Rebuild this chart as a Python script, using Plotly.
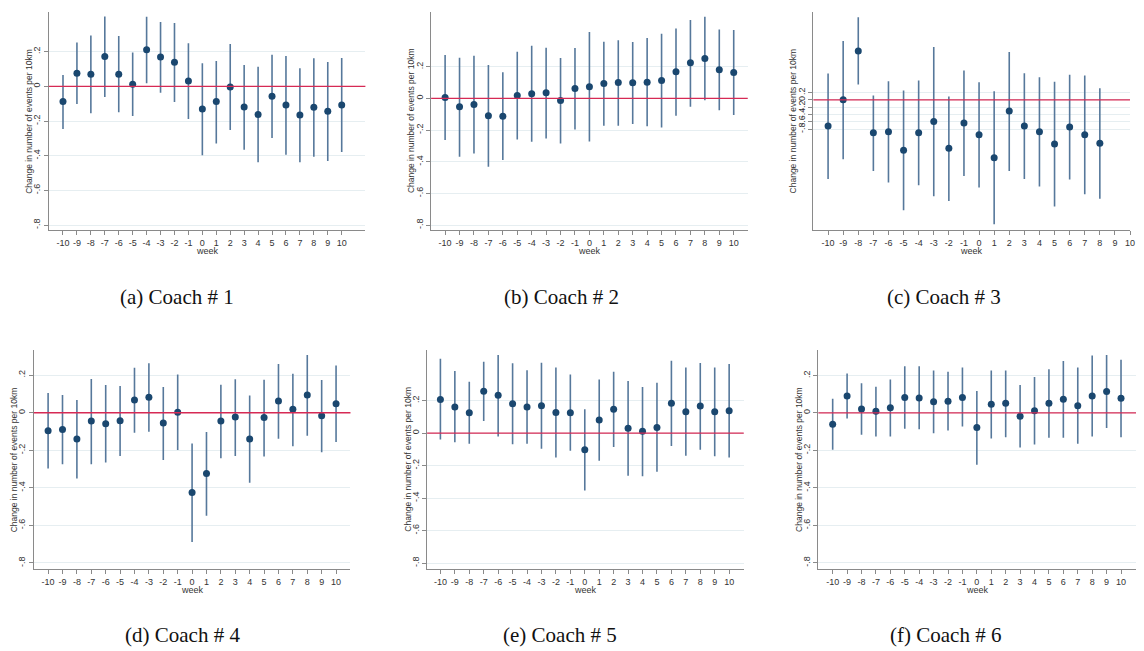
import plotly.graph_objects as go

# Event-study estimates: weekly change in events per 10km, one panel per coach
weeks = list(range(-10, 11))

coach1_est = [-0.088, 0.075, 0.069, 0.171, 0.069, 0.012, 0.210, 0.169, 0.138, 0.031, -0.131,
              -0.088, -0.004, -0.119, -0.162, -0.058, -0.108, -0.165, -0.121, -0.144, -0.108]
coach1_hi = [0.065, 0.252, 0.292, 0.402, 0.290, 0.194, 0.400, 0.371, 0.365, 0.248, 0.133,
             0.146, 0.244, 0.123, 0.112, 0.181, 0.175, 0.104, 0.162, 0.140, 0.163]
coach1_lo = [-0.246, -0.102, -0.156, -0.062, -0.150, -0.171, 0.017, -0.037, -0.090, -0.188, -0.398,
             -0.329, -0.252, -0.365, -0.437, -0.298, -0.394, -0.437, -0.406, -0.431, -0.379]

coach2_est = [0.006, -0.053, -0.038, -0.109, -0.112, 0.019, 0.029, 0.036, -0.013, 0.063, 0.074,
              0.095, 0.101, 0.099, 0.103, 0.114, 0.168, 0.225, 0.253, 0.181, 0.164]
coach2_hi = [0.274, 0.257, 0.269, 0.211, 0.166, 0.295, 0.333, 0.320, 0.255, 0.318, 0.419,
             0.358, 0.368, 0.356, 0.381, 0.408, 0.442, 0.495, 0.516, 0.436, 0.432]
coach2_lo = [-0.263, -0.368, -0.347, -0.432, -0.389, -0.259, -0.274, -0.253, -0.284, -0.196, -0.272,
             -0.173, -0.173, -0.162, -0.175, -0.183, -0.109, -0.053, -0.011, -0.074, -0.105]

# Coach 3 has no estimates for weeks 9 and 10
coach3_est = [-0.718, 0.000, 1.336, -0.900, -0.873, -1.382, -0.900, -0.591, -1.327, -0.636, -0.955,
              -1.582, -0.309, -0.718, -0.873, -1.209, -0.745, -0.955, -1.191, None, None]
coach3_hi = [0.718, 1.609, 2.255, 0.118, 0.509, 0.255, 0.527, 1.445, 0.091, 0.800, 0.482,
             0.236, 1.309, 0.727, 0.618, 0.491, 0.682, 0.664, 0.318, None, None]
coach3_lo = [-2.164, -1.627, 0.418, -1.945, -2.264, -3.018, -2.336, -2.636, -2.764, -2.082, -2.400,
             -3.400, -1.945, -2.164, -2.373, -2.918, -2.182, -2.582, -2.709, None, None]

coach4_est = [-0.096, -0.089, -0.140, -0.044, -0.059, -0.043, 0.068, 0.082, -0.055, 0.002, -0.425,
              -0.324, -0.044, -0.023, -0.140, -0.025, 0.062, 0.018, 0.094, -0.016, 0.048]
coach4_hi = [0.105, 0.094, 0.068, 0.180, 0.148, 0.142, 0.240, 0.263, 0.137, 0.204, -0.164,
             -0.103, 0.149, 0.178, 0.092, 0.176, 0.260, 0.208, 0.308, 0.174, 0.251]
coach4_lo = [-0.297, -0.274, -0.350, -0.274, -0.265, -0.231, -0.107, -0.101, -0.252, -0.199, -0.688,
             -0.549, -0.242, -0.231, -0.373, -0.233, -0.139, -0.178, -0.123, -0.210, -0.156]

coach5_est = [0.207, 0.160, 0.125, 0.258, 0.232, 0.181, 0.160, 0.168, 0.127, 0.125, -0.103,
              0.080, 0.146, 0.029, 0.012, 0.035, 0.183, 0.131, 0.166, 0.131, 0.137]
coach5_hi = [0.457, 0.382, 0.316, 0.439, 0.480, 0.429, 0.386, 0.433, 0.404, 0.361, 0.146,
             0.330, 0.377, 0.320, 0.283, 0.310, 0.445, 0.404, 0.431, 0.404, 0.425]
coach5_lo = [-0.039, -0.057, -0.066, 0.074, -0.021, -0.068, -0.066, -0.096, -0.150, -0.109, -0.353,
             -0.170, -0.086, -0.263, -0.265, -0.238, -0.080, -0.139, -0.103, -0.142, -0.150]

coach6_est = [-0.060, 0.091, 0.021, 0.009, 0.028, 0.082, 0.080, 0.060, 0.062, 0.083, -0.078,
              0.046, 0.052, -0.018, 0.012, 0.052, 0.073, 0.039, 0.091, 0.114, 0.078]
coach6_hi = [0.076, 0.211, 0.158, 0.140, 0.179, 0.249, 0.249, 0.227, 0.220, 0.242, 0.117,
             0.227, 0.226, 0.149, 0.192, 0.233, 0.277, 0.242, 0.306, 0.309, 0.284]
coach6_lo = [-0.197, -0.030, -0.117, -0.126, -0.126, -0.085, -0.087, -0.108, -0.094, -0.073, -0.277,
             -0.137, -0.130, -0.185, -0.169, -0.133, -0.133, -0.165, -0.126, -0.080, -0.130]

captions = ["(a) Coach # 1", "(b) Coach # 2", "(c) Coach # 3",
            "(d) Coach # 4", "(e) Coach # 5", "(f) Coach # 6"]

ytick_vals = [-0.8, -0.6, -0.4, -0.2, 0, 0.2]
ytick_text = ["-.8", "-.6", "-.4", "-.2", "0", ".2"]
xtick_vals = weeks
xtick_text = [str(w) for w in weeks]

series = [
    (coach1_est, coach1_lo, coach1_hi),
    (coach2_est, coach2_lo, coach2_hi),
    (coach3_est, coach3_lo, coach3_hi),
    (coach4_est, coach4_lo, coach4_hi),
    (coach5_est, coach5_lo, coach5_hi),
    (coach6_est, coach6_lo, coach6_hi),
]

# Panel frames in pixels: (left, right, top, bottom) and axis ranges
W, H = 1144, 651
frames = [
    dict(px=(49, 367, 12, 230), xr=(-11.02, 11.7), yr=(-0.828, 0.428), cap=(178, 297)),
    dict(px=(433, 751, 12, 230), xr=(-10.97, 10.97), yr=(-0.831, 0.546), cap=(564, 297)),
    dict(px=(817, 1135, 12, 230), xr=(-10.97, 10.0), yr=(-3.56, 2.40), cap=(948, 297)),
    dict(px=(34, 352, 350, 569), xr=(-10.99, 11.0), yr=(-0.832, 0.334), cap=(183, 635)),
    dict(px=(429, 747, 350, 569), xr=(-10.92, 11.01), yr=(-0.836, 0.511), cap=(562, 635)),
    dict(px=(822, 1141, 350, 569), xr=(-10.99, 11.04), yr=(-0.833, 0.336), cap=(950, 635)),
]

NAVY = "#1a476f"
WHISKER = "#56789b"
ZERO = "#d62a55"
GRID = "#e6eef1"
AXIS = "#8a8a8a"
TXT = "#333333"
SANS = "Liberation Sans, Arial, sans-serif"
SERIF = "Liberation Serif, Times New Roman, serif"

fig = go.Figure()
layout = dict(
    width=W, height=H,
    margin=dict(l=0, r=0, t=0, b=0),
    paper_bgcolor="white", plot_bgcolor="white",
    showlegend=False,
)
annotations = []
shapes = []

for i, ((est, lo, hi), fr) in enumerate(zip(series, frames), start=1):
    xs = "" if i == 1 else str(i)
    l, r, t, b = fr["px"]
    plus = [None if (h is None or e is None) else h - e for h, e in zip(hi, est)]
    minus = [None if (q is None or e is None) else e - q for q, e in zip(lo, est)]

    fig.add_trace(go.Scatter(
        x=weeks, y=est, mode="markers",
        marker=dict(color=NAVY, size=7),
        error_y=dict(type="data", symmetric=False, array=plus, arrayminus=minus,
                     color=WHISKER, thickness=1.6, width=0),
        xaxis="x" + xs, yaxis="y" + xs,
    ))

    layout["xaxis" + xs] = dict(
        domain=[l / W, r / W], range=list(fr["xr"]), anchor="y" + xs,
        tickmode="array", tickvals=xtick_vals, ticktext=xtick_text, tickangle=0,
        ticks="outside", ticklen=4, tickcolor=AXIS, tickwidth=1,
        showline=True, linecolor=AXIS, linewidth=1,
        showgrid=False, zeroline=False,
        tickfont=dict(family=SANS, size=9, color=TXT),
    )
    layout["yaxis" + xs] = dict(
        domain=[1 - b / H, 1 - t / H], range=list(fr["yr"]), anchor="x" + xs,
        tickmode="array", tickvals=ytick_vals, ticktext=ytick_text, tickangle=-90,
        ticks="outside", ticklen=4, tickcolor=AXIS, tickwidth=1,
        showline=True, linecolor=AXIS, linewidth=1,
        showgrid=True, gridcolor=GRID, gridwidth=1, zeroline=False,
        tickfont=dict(family=SANS, size=9, color=TXT),
    )

    # reference line at zero
    shapes.append(dict(type="line", xref="x" + xs + " domain", yref="y" + xs,
                       x0=0, x1=1, y0=0, y1=0, line=dict(color=ZERO, width=1.3), layer="above"))

    annotations.append(dict(
        text="week", xref="x" + xs + " domain", yref="y" + xs + " domain",
        x=0.5, y=0, yshift=-21, showarrow=False, xanchor="center", yanchor="middle",
        font=dict(family=SANS, size=9, color=TXT),
    ))
    annotations.append(dict(
        text="Change in number of events per 10km", textangle=-90,
        xref="x" + xs + " domain", yref="y" + xs + " domain",
        x=0, y=0.5, xshift=-20, showarrow=False, xanchor="center", yanchor="middle",
        font=dict(family=SANS, size=8.5, color=TXT),
    ))
    cx, cy = fr["cap"]
    annotations.append(dict(
        text=captions[i - 1], xref="paper", yref="paper",
        x=cx / W, y=1 - cy / H, showarrow=False, xanchor="center", yanchor="middle",
        font=dict(family=SERIF, size=21, color="#111111"),
    ))

layout["annotations"] = annotations
layout["shapes"] = shapes
fig.update_layout(**layout)
fig.write_html("out.html")
